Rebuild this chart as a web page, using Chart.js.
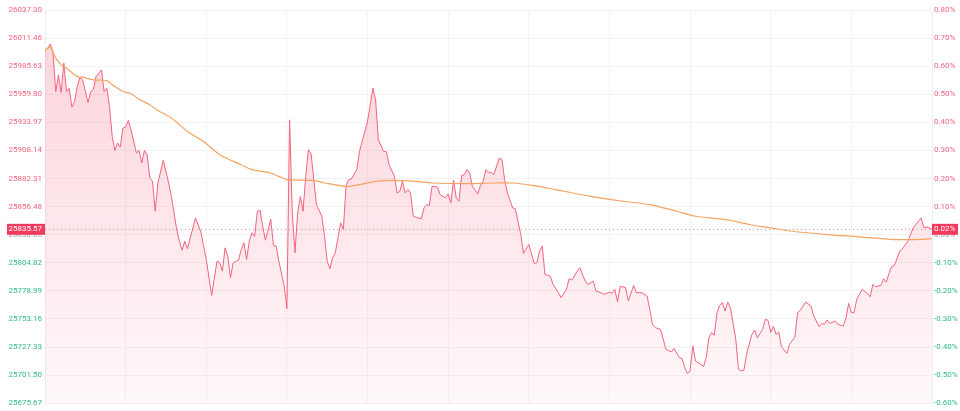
<!DOCTYPE html>
<html>
<head>
<meta charset="utf-8">
<script src="https://cdn.jsdelivr.net/npm/chart.js"></script>
<style>
  html, body { margin: 0; padding: 0; background: #fff; }
  #wrap { width: 960px; height: 411px; }
</style>
</head>
<body>
<div id="wrap"><canvas id="chart"></canvas></div>
<script>
// minutes since the open (09:30, lunch break skipped), 0..330
const priceMinutes = [0,1,2,3,4,5,6,7,8,9,10,11,12,13,14,16,17,18,19,21,22,23,24,25,26,27,28,29,30,31,32,34,35,36,37,38,39,40,41,42,44,46,47,49,50,51,52,53,56,58,59,60,62,64,65,66,67,68,69,70,71,72,73,74,75,76,77,78,79,80,81,82,84,85,86,87,89,90,91,92,93,94,95,96,97,98,99,100,101,103,104,105,106,107,108,109,110,111,112,113,114,116,117,118,120,121,122,123,124,126,127,128,130,131,132,133,134,135,136,137,138,140,141,142,143,144,146,147,149,150,151,152,153,154,155,156,157,158,159,161,162,163,164,165,166,167,169,170,171,172,174,175,177,178,180,182,183,184,185,186,188,189,191,192,194,195,196,198,199,201,202,204,205,207,208,210,211,212,213,214,216,217,219,220,222,224,225,226,227,229,231,233,234,236,237,238,239,240,241,242,244,245,246,247,248,249,250,251,252,253,254,255,257,258,259,260,261,263,264,265,267,268,269,270,271,272,273,274,276,277,279,280,281,283,285,286,288,289,290,291,292,294,295,297,298,299,300,301,302,304,306,307,308,309,311,312,313,314,315,316,318,319,321,323,324,326,327,328,330];
const priceValues = [26000.0,26002.2,26006.1,25997.6,25962.3,25977.6,25961.4,25988.4,25962.3,25965.4,25948.0,25953.1,25966.9,25975.2,25973.1,25952.2,25962.3,25964.5,25976.1,25982.2,25962.3,25965.4,25948.5,25921.0,25908.2,25915.0,25911.3,25928.7,25929.6,25935.7,25927.2,25905.8,25908.2,25896.6,25908.2,25904.2,25882.8,25879.7,25852.2,25878.2,25899.0,25878.2,25865.9,25835.4,25824.6,25816.4,25824.6,25817.7,25846.1,25832.9,25820.1,25807.9,25774.8,25806.3,25804.8,25797.1,25818.6,25810.9,25791.1,25804.8,25806.3,25807.2,25817.0,25823.2,25807.9,25824.6,25832.4,25829.2,25852.2,25853.1,25838.4,25825.6,25844.8,25820.7,25820.1,25806.3,25783.3,25762.6,25936.3,25850.7,25814.0,25850.7,25865.9,25852.2,25884.3,25908.8,25905.1,25881.3,25858.3,25847.6,25829.2,25806.3,25799.3,25809.4,25814.0,25827.8,25841.5,25835.4,25875.8,25881.3,25882.0,25890.5,25907.3,25916.4,25934.8,25950.1,25965.4,25954.7,25918.0,25907.3,25907.0,25895.0,25884.3,25869.1,25870.5,25879.7,25869.1,25872.1,25869.1,25847.6,25846.7,25845.2,25855.3,25858.3,25857.4,25875.1,25874.6,25867.5,25864.5,25868.2,25859.9,25880.6,25864.5,25861.4,25885.0,25885.9,25890.5,25887.4,25875.1,25868.2,25875.8,25879.7,25890.5,25888.0,25888.0,25885.9,25901.2,25899.6,25881.3,25869.1,25855.3,25854.4,25830.8,25813.4,25821.6,25804.2,25804.8,25815.5,25820.1,25794.1,25792.5,25784.9,25777.3,25772.7,25780.3,25790.1,25788.9,25797.1,25800.2,25787.9,25784.9,25787.9,25778.8,25777.3,25775.7,25777.8,25776.6,25780.3,25768.7,25783.3,25781.9,25769.6,25784.0,25777.3,25777.3,25774.2,25762.0,25748.2,25745.2,25743.6,25725.3,25722.8,25725.9,25717.6,25716.7,25708.5,25703.0,25705.3,25728.3,25714.5,25711.5,25709.4,25717.6,25736.0,25740.6,25738.1,25758.9,25765.6,25768.1,25760.4,25768.7,25763.5,25734.4,25706.9,25705.3,25706.0,25720.7,25739.0,25743.0,25735.8,25743.6,25752.8,25751.9,25740.9,25746.4,25739.0,25741.1,25727.5,25721.4,25729.8,25736.5,25758.9,25761.0,25768.7,25765.0,25755.8,25746.1,25749.1,25748.2,25752.1,25749.1,25751.2,25748.2,25746.6,25754.3,25767.5,25758.9,25758.9,25771.1,25780.3,25776.6,25773.6,25784.9,25782.8,25784.0,25790.1,25787.0,25795.0,25801.2,25802.3,25815.5,25817.7,25824.6,25836.9,25840.0,25846.1,25836.9,25837.9,25835.57];

const avgMinutes = [0,2,4,6,8,12,14,18,23,25,29,32,35,39,42,47,53,59,65,73,77,84,87,90,100,104,112,117,123,129,138,144,156,167,174,182,190,203,215,225,235,242,251,255,262,270,278,291,303,316,322,330];
const avgValues = [26000.0,26003.1,25993.0,25986.8,25983.8,25976.1,25975.5,25973.1,25972.4,25968.5,25962.3,25960.2,25955.3,25950.1,25944.9,25937.9,25925.6,25916.4,25904.2,25895.0,25890.5,25887.4,25884.3,25881.3,25880.6,25878.2,25875.1,25876.7,25879.7,25880.6,25879.7,25878.2,25877.6,25878.2,25878.2,25875.8,25872.1,25865.9,25861.4,25858.3,25852.2,25847.6,25845.2,25843.9,25840.0,25836.9,25833.8,25830.8,25828.7,25826.2,25826.2,25826.9];

const prevClose = 25830.65;
const priceTicks = [26037.30,26011.46,25985.63,25959.80,25933.97,25908.14,25882.31,25856.48,25830.65,25804.82,25778.99,25753.16,25727.33,25701.50,25675.67];
const pctTicks = [0.80,0.70,0.60,0.50,0.40,0.30,0.20,0.10,0.00,-0.10,-0.20,-0.30,-0.40,-0.50,-0.60];

const UP = '#f2637d';
const DOWN = '#2fb98a';
const FLAT = '#9aa0a6';

const yMax = 26037.30;
const yMin = 25675.67;
const lastPrice = priceValues[priceValues.length - 1];

const priceData = priceMinutes.map((m, i) => ({ x: m, y: priceValues[i] }));
const avgData = avgMinutes.map((m, i) => ({ x: m, y: avgValues[i] }));

const tickFont = { family: 'Roboto, "DejaVu Sans", sans-serif', size: 8 };

const lastPricePlugin = {
    id: 'lastPrice',
    beforeDatasetsDraw(chart) {
        const { ctx, chartArea } = chart;
        const y = chart.scales.y.getPixelForValue(lastPrice);
        ctx.save();
        ctx.strokeStyle = 'rgba(242,99,125,0.7)';
        ctx.lineWidth = 1;
        ctx.setLineDash([1, 3]);
        ctx.beginPath();
        ctx.moveTo(chartArea.left, Math.round(y) + 0.5);
        ctx.lineTo(chartArea.right, Math.round(y) + 0.5);
        ctx.stroke();
        ctx.restore();
    },
    afterDraw(chart) {
        const { ctx, chartArea } = chart;
        const y = chart.scales.y.getPixelForValue(lastPrice);
        const pct = (lastPrice / prevClose - 1) * 100;
        ctx.save();
        ctx.font = '8px Roboto, "DejaVu Sans", sans-serif';
        ctx.textBaseline = 'middle';
        // left badge
        ctx.fillStyle = '#f23b5c';
        ctx.fillRect(7, y - 5.5, chartArea.left - 7, 11);
        ctx.fillStyle = '#fff';
        ctx.textAlign = 'right';
        ctx.fillText(lastPrice.toFixed(2), chartArea.left - 3, y);
        // right badge
        ctx.fillStyle = '#f23b5c';
        ctx.fillRect(chartArea.right, y - 5.5, 26, 11);
        ctx.fillStyle = '#fff';
        ctx.textAlign = 'left';
        ctx.fillText(pct.toFixed(2) + '%', chartArea.right + 2, y);
        ctx.restore();
    }
};

new Chart(document.getElementById('chart'), {
    type: 'line',
    data: {
        datasets: [{
            label: 'Price',
            data: priceData,
            borderColor: '#f2637d',
            borderWidth: 1,
            pointRadius: 0,
            tension: 0,
            fill: 'start',
            backgroundColor: (context) => {
                const { ctx, chartArea } = context.chart;
                if (!chartArea) return 'rgba(242,99,125,0.15)';
                const g = ctx.createLinearGradient(0, chartArea.top, 0, chartArea.bottom);
                g.addColorStop(0, 'rgba(242,80,110,0.26)');
                g.addColorStop(1, 'rgba(242,80,110,0.04)');
                return g;
            },
            order: 2
        }, {
            label: 'Average',
            data: avgData,
            borderColor: '#f6a35f',
            borderWidth: 1.2,
            pointRadius: 0,
            tension: 0.3,
            fill: false,
            order: 1
        }]
    },
    options: {
        responsive: true,
        maintainAspectRatio: false,
        animation: false,
        layout: { padding: { top: 10, bottom: 2, left: 0, right: 0 } },
        plugins: {
            legend: { display: false },
            tooltip: { enabled: false }
        },
        scales: {
            x: {
                type: 'linear',
                min: 0,
                max: 330,
                afterFit: (scale) => { scale.height = 0; },
                ticks: { display: false, stepSize: 30 },
                grid: { color: '#f3f3f3', drawTicks: false },
                border: { color: '#efefef' }
            },
            y: {
                position: 'left',
                min: yMin,
                max: yMax,
                afterBuildTicks: (scale) => { scale.ticks = priceTicks.map(v => ({ value: v })); },
                afterFit: (scale) => { scale.width = 45; },
                ticks: {
                    padding: 3,
                    font: tickFont,
                    callback: (v) => Number(v).toFixed(2),
                    color: (c) => c.tick.value > prevClose + 0.01 ? UP : (c.tick.value < prevClose - 0.01 ? DOWN : FLAT)
                },
                grid: { color: '#f3f3f3', drawTicks: false },
                border: { color: '#efefef' }
            },
            y1: {
                position: 'right',
                min: (yMin / prevClose - 1) * 100,
                max: (yMax / prevClose - 1) * 100,
                afterBuildTicks: (scale) => { scale.ticks = pctTicks.map(v => ({ value: v })); },
                afterFit: (scale) => { scale.width = 28; },
                ticks: {
                    padding: 2,
                    font: tickFont,
                    callback: (v) => Number(v).toFixed(2) + '%',
                    color: (c) => c.tick.value > 0.001 ? UP : (c.tick.value < -0.001 ? DOWN : FLAT)
                },
                grid: { display: false, drawTicks: false },
                border: { color: '#efefef' }
            }
        }
    },
    plugins: [lastPricePlugin]
});
</script>
</body>
</html>
